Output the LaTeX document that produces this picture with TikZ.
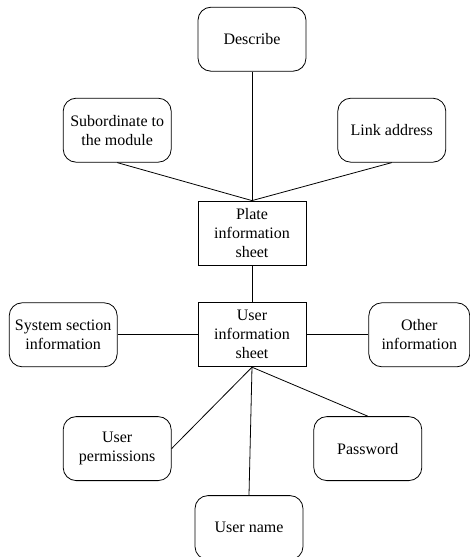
\documentclass[tikz,border=0pt]{standalone}
\usepackage{fontspec}
\setmainfont{Liberation Serif}
\usetikzlibrary{positioning}

\begin{document}
\begin{tikzpicture}[
    x=1pt, y=1pt,
    every node/.style={font=\fontsize{16}{19}\selectfont},
    item/.style={rectangle, rounded corners=13pt, draw, line width=0.8pt,
                 minimum width=108pt, minimum height=64pt, align=center,
                 inner sep=2pt},
    sheet/.style={rectangle, draw, line width=0.8pt,
                  minimum width=108pt, minimum height=64pt, align=center,
                  inner sep=2pt},
    link/.style={line width=0.8pt},
]

% page frame
\useasboundingbox (-252,233) rectangle (218,-324);

% Plate sheet and its fields
\node[sheet] (plate) at (0,0) {Plate\\information\\sheet};
\node[item, above=129pt of plate] (describe) {Describe};
\node[item, above left=38pt and 26pt of plate] (module) {Subordinate to\\the module};
\node[item, above right=38pt and 31pt of plate] (address) {Link address};

% User sheet and its fields
\node[sheet, below=37pt of plate] (user) {User\\information\\sheet};
\node[item, left=80pt of user] (section) {System section\\information};
\node[item, right=62pt of user, minimum width=101pt] (other) {Other\\information};
\node[item, below left=49pt and 26pt of user] (perm) {User\\permissions};
\node[item, below right=49pt and 7pt of user] (passwd) {Password};
\node[item, below=128pt of user, xshift=-3pt] (uname) {User name};

% Connectors
\draw[link] (describe.south) -- (plate.north);
\draw[link] (module.south) -- (plate.north);
\draw[link] (address.south) -- (plate.north);
\draw[link] (plate.south) -- (user.north);
\draw[link] (section.east) -- (user.west);
\draw[link] (user.east) -- (other.west);
\draw[link] (user.south) -- (perm.east);
\draw[link] (user.south) -- (passwd.north);
\draw[link] (user.south) -- (uname.north);

\end{tikzpicture}
\end{document}
